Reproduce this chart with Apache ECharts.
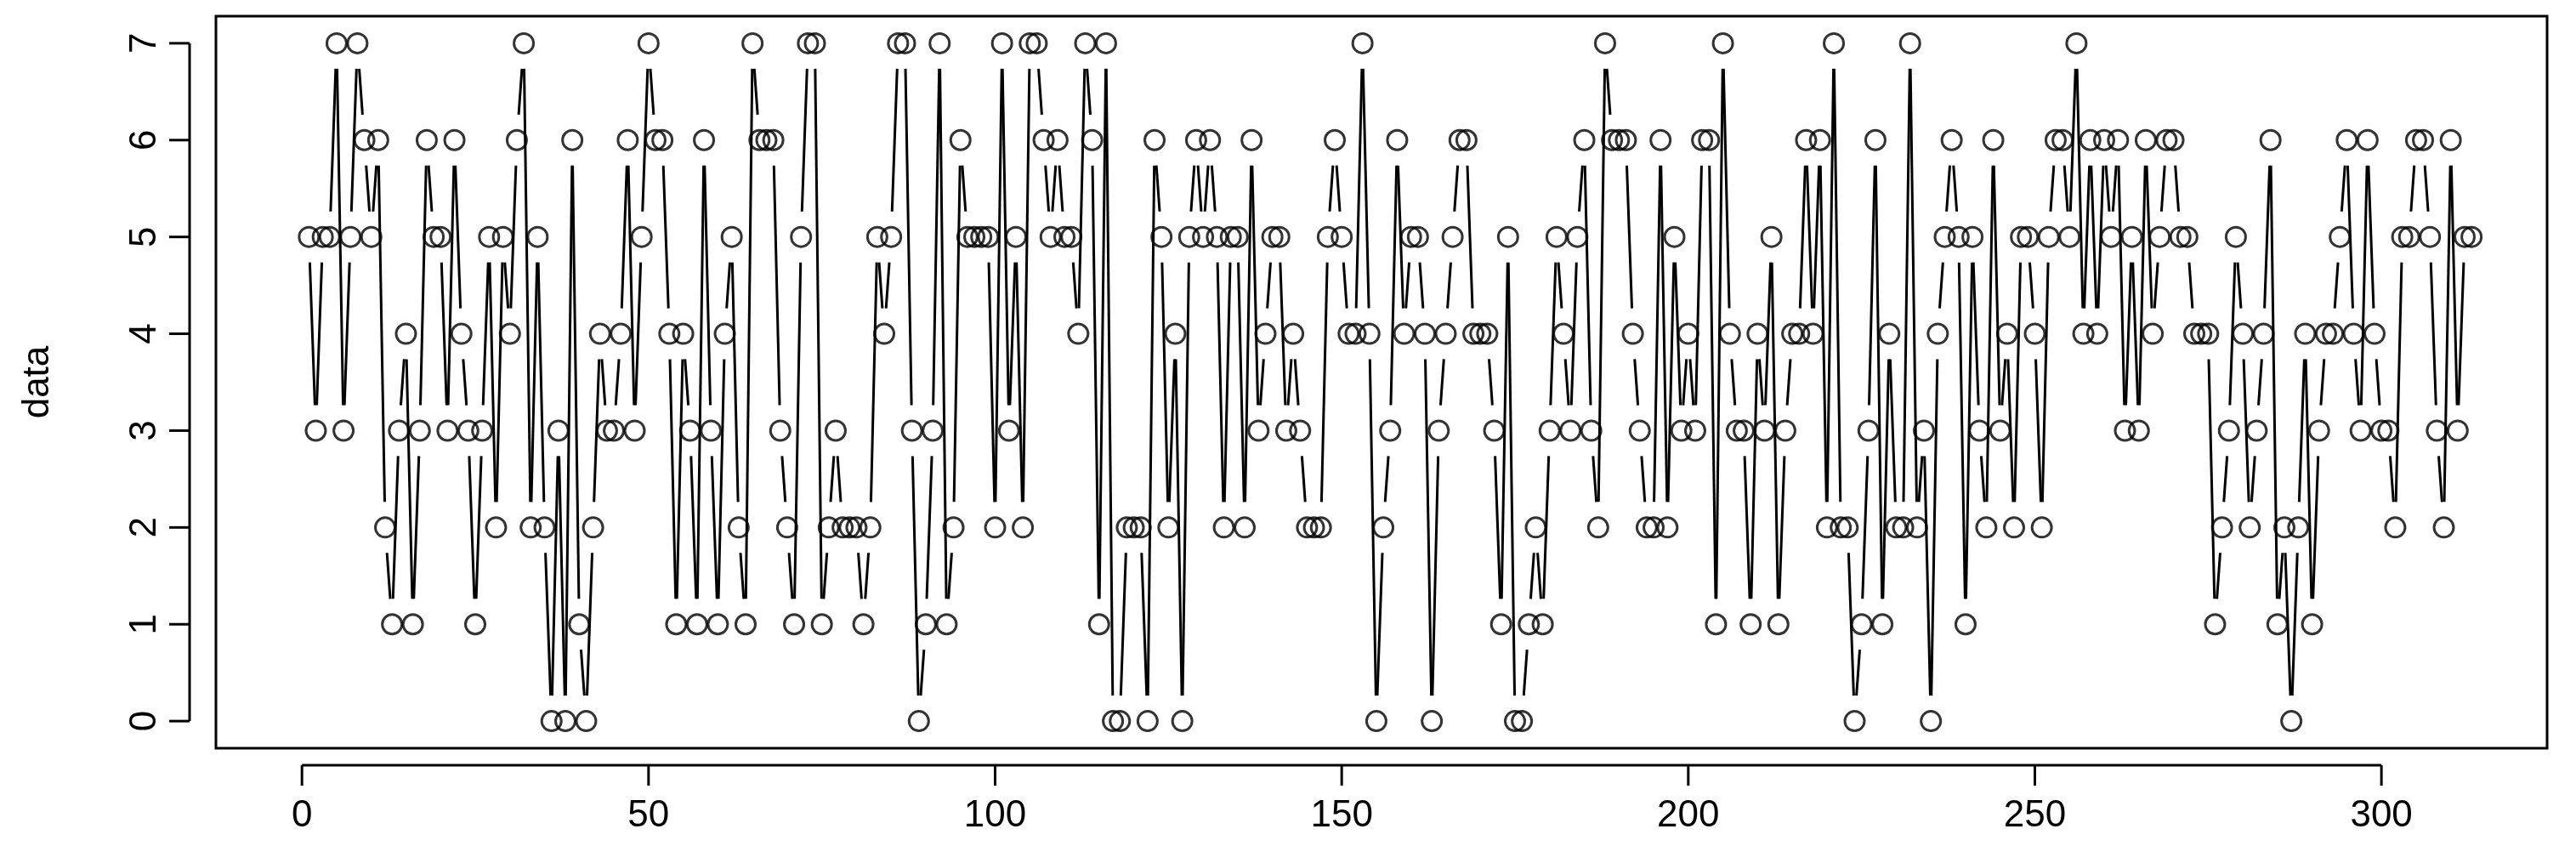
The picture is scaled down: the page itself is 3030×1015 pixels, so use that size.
<!DOCTYPE html>
<html>
<head>
<meta charset="utf-8">
<script src="https://cdn.jsdelivr.net/npm/echarts@6/dist/echarts.min.js"></script>
<style>
	html, body { margin: 0; padding: 0; background: #fff; }
	#plot { width: 3030px; height: 1015px; }
</style>
</head>
<body>
<div id="plot"></div>
<script>
// values, index 1..313
var dataValues = [
	5,3,5,5,7,3,5,7,6,5, 6,2,1,3,4,1,3,6,5,5, 3,6,4,3,1,3,5,2,5,4,
	6,7,2,5,2,0,3,0,6,1, 0,2,4,3,3,4,6,3,5,7, 6,6,4,1,4,3,1,6,3,1,
	4,5,2,1,7,6,6,6,3,2, 1,5,7,7,1,2,3,2,2,2, 1,2,5,4,5,7,7,3,0,1,
	3,7,1,2,6,5,5,5,5,2, 7,3,5,2,7,7,6,5,6,5, 5,4,7,6,1,7,0,0,2,2,
	2,0,6,5,2,4,0,5,6,5, 6,5,2,5,5,2,6,3,4,5, 5,3,4,3,2,2,2,5,6,5,
	4,4,7,4,0,2,3,6,4,5, 5,4,0,3,4,5,6,6,4,4, 4,3,1,5,0,0,1,2,1,3,
	5,4,3,5,6,3,2,7,6,6, 6,4,3,2,2,6,2,5,3,4, 3,6,6,1,7,4,3,3,1,4,
	3,5,1,3,4,4,6,4,6,2, 7,2,2,0,1,3,6,1,4,2, 2,7,2,3,0,4,5,6,5,1,
	5,3,2,6,3,4,2,5,5,4, 2,5,6,6,5,7,4,6,4,6, 5,6,3,5,3,6,4,5,6,6,
	5,5,4,4,4,1,2,3,5,4, 2,3,4,6,1,2,0,2,4,1, 3,4,4,5,6,4,3,6,4,3,
	3,2,5,5,6,6,5,3,2,6, 3,5,5
];
var xTicks = [0, 50, 100, 150, 200, 250, 300];
var yTicks = [0, 1, 2, 3, 4, 5, 6, 7];
var yTitle = 'data';

var n = dataValues.length;
var points = dataValues.map(function (v, i) { return [i + 1, v]; });
var segments = [];
for (var i = 0; i < n - 1; i++) {
	segments.push([i + 1, dataValues[i], i + 2, dataValues[i + 1]]);
}

var xMin = -12.41, xMax = 323.9;
var yMin = -0.28, yMax = 7.28;

var FONT = 'Liberation Sans';
var FS = 44;
var LW = 3;
var GAP = 30;        // type="b" gap around each point
var X_OFF = 20;      // x axis line below the box
var Y_OFF = 31;      // y axis line left of the box
var TICK = 24;

var chart = echarts.init(document.getElementById('plot'), null, { renderer: 'canvas' });

function renderSegment(params, api) {
	var p0 = api.coord([api.value(0), api.value(1)]);
	var p1 = api.coord([api.value(2), api.value(3)]);
	var dx = p1[0] - p0[0], dy = p1[1] - p0[1];
	var len = Math.sqrt(dx * dx + dy * dy);
	if (len <= 2 * GAP) return null;
	var ux = dx / len, uy = dy / len;
	return {
		type: 'line',
		shape: { x1: p0[0] + ux * GAP, y1: p0[1] + uy * GAP, x2: p1[0] - ux * GAP, y2: p1[1] - uy * GAP },
		style: { stroke: '#000', lineWidth: LW }
	};
}

// axis lines run from first to last tick, set off from the box
function renderAxes(params, api) {
	var cs = params.coordSys;
	var by = cs.y + cs.height + X_OFF;
	var bx = cs.x - Y_OFF;
	var st = { stroke: '#000', lineWidth: LW };
	var kids = [];
	var xa = api.coord([xTicks[0], 0])[0], xb = api.coord([xTicks[xTicks.length - 1], 0])[0];
	kids.push({ type: 'line', shape: { x1: xa, y1: by, x2: xb, y2: by }, style: st });
	xTicks.forEach(function (t) {
		var px = api.coord([t, 0])[0];
		kids.push({ type: 'line', shape: { x1: px, y1: by, x2: px, y2: by + TICK }, style: st });
	});
	var ya = api.coord([0, yTicks[0]])[1], yb = api.coord([0, yTicks[yTicks.length - 1]])[1];
	kids.push({ type: 'line', shape: { x1: bx, y1: ya, x2: bx, y2: yb }, style: st });
	yTicks.forEach(function (t) {
		var py = api.coord([0, t])[1];
		kids.push({ type: 'line', shape: { x1: bx, y1: py, x2: bx - TICK, y2: py }, style: st });
	});
	return { type: 'group', children: kids };
}

chart.setOption({
	animation: false,
	backgroundColor: '#fff',
	grid: {
		left: 254, top: 19, width: 2742, height: 861,
		show: true, borderColor: '#000', borderWidth: LW, backgroundColor: 'transparent'
	},
	xAxis: {
		type: 'value', min: xMin, max: xMax, offset: X_OFF,
		axisLine: { show: false },
		splitLine: { show: false },
		axisTick: { show: false },
		axisLabel: { customValues: xTicks, color: '#000', fontFamily: FONT, fontSize: FS, margin: 38 }
	},
	yAxis: {
		type: 'value', min: yMin, max: yMax, offset: Y_OFF,
		name: yTitle, nameLocation: 'middle', nameRotate: 90, nameGap: 156,
		nameTextStyle: { color: '#000', fontFamily: FONT, fontSize: FS },
		axisLine: { show: false },
		splitLine: { show: false },
		axisTick: { show: false },
		axisLabel: { customValues: yTicks, rotate: 90, color: '#000', fontFamily: FONT, fontSize: FS, margin: 30 }
	},
	series: [
		{
			type: 'custom', name: 'axes', renderItem: renderAxes, data: [[0, 0]], silent: true, z: 1
		},
		{
			type: 'custom', name: 'lines', renderItem: renderSegment, data: segments,
			encode: { x: [0, 2], y: [1, 3] }, silent: true, z: 2
		},
		{
			type: 'scatter', name: 'data', data: points, symbol: 'circle', symbolSize: 23,
			itemStyle: { color: 'rgba(0,0,0,0)', borderColor: '#000', borderWidth: LW },
			silent: true, z: 3
		}
	]
});
</script>
</body>
</html>
